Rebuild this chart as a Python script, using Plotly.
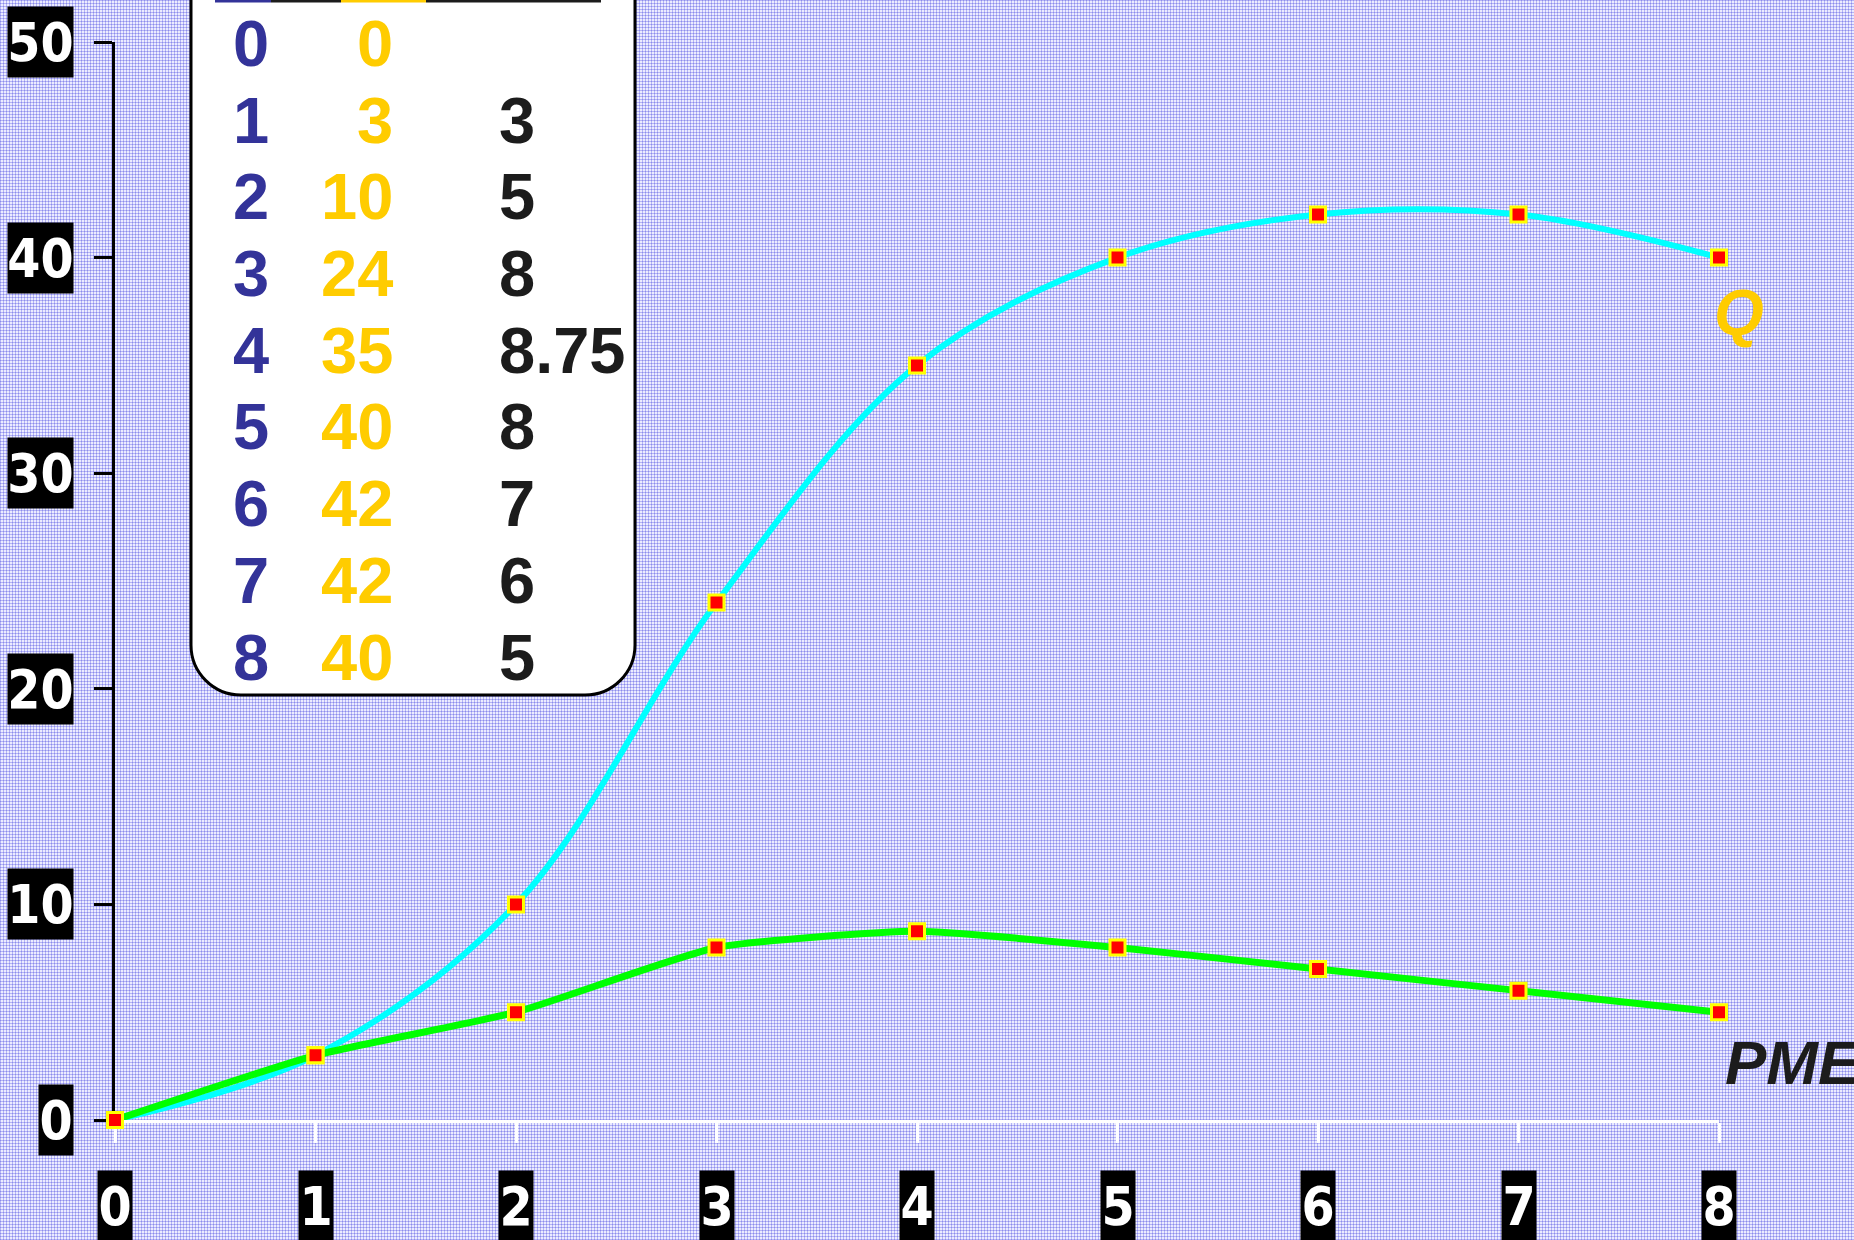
import base64
import plotly.graph_objects as go

# Production with one variable input: labour L, total output Q, average product PME
labor = [0, 1, 2, 3, 4, 5, 6, 7, 8]
output_q = [0, 3, 10, 24, 35, 40, 42, 42, 40]
avg_product = [0, 3, 5, 8, 8.75, 8, 7, 6, 5]
table_pme = ["", "3", "5", "8", "8.75", "8", "7", "6", "5"]
x_ticks = [0, 1, 2, 3, 4, 5, 6, 7, 8]
y_ticks = [0, 10, 20, 30, 40, 50]

# Canvas and plot-area geometry (pixels)
W, H = 1854, 1240
M_L, M_R, M_T, M_B = 115, 135, 42, 120
PW = W - M_L - M_R
PH = H - M_T - M_B

BG = "#C8C8F8"
CYAN = "#00FFFF"
GREEN = "#00FF00"
RED = "#FF0000"
YELLOW = "#FFFF00"
BLUE = "#333399"
GOLD = "#FFCC00"
INK = "#1C1C1C"

SANS = "Liberation Sans, Arial, sans-serif"
NARROW = "Liberation Sans Narrow, Arial Narrow, DejaVu Sans Condensed, sans-serif"


def px(xp):
    """pixel x -> paper x"""
    return (xp - M_L) / PW


def py(yp):
    """pixel y (from top) -> paper y"""
    return (H - M_B - yp) / PH


# Fine woven lavender background tile
tile_svg = (
    f"<svg xmlns='http://www.w3.org/2000/svg' width='{W}' height='{H}'>"
    "<defs><pattern id='p' width='3' height='3' patternUnits='userSpaceOnUse'>"
    "<rect width='3' height='3' fill='#EBEBFF'/>"
    "<rect width='3' height='1' fill='#B4B4F5'/>"
    "<rect width='1' height='3' fill='#B4B4F5'/>"
    "<rect width='1' height='1' fill='#8C8CEB'/>"
    "</pattern></defs>"
    f"<rect width='{W}' height='{H}' fill='url(#p)'/></svg>"
)
bg_src = "data:image/svg+xml;base64," + base64.b64encode(tile_svg.encode()).decode()

fig = go.Figure()

# Total product curve
fig.add_trace(go.Scatter(
    x=labor, y=output_q, mode="lines",
    line=dict(color=CYAN, width=6, shape="spline", smoothing=1.0),
    hoverinfo="skip", cliponaxis=False, showlegend=False,
))
# Average product curve
fig.add_trace(go.Scatter(
    x=labor, y=avg_product, mode="lines",
    line=dict(color=GREEN, width=7, shape="spline", smoothing=0.5),
    hoverinfo="skip", cliponaxis=False, showlegend=False,
))
# Point markers on both curves
fig.add_trace(go.Scatter(
    x=labor + labor, y=output_q + avg_product, mode="markers",
    marker=dict(symbol="square", size=15, color=RED,
                line=dict(color=YELLOW, width=3)),
    hoverinfo="skip", cliponaxis=False, showlegend=False,
))

shapes = []
annotations = []

# Data table panel: white box with rounded bottom corners
left, right, top, bottom, r = 191, 635, -120, 695, 50
k = 0.5523 * r
pts = [
    ("M", [(left, top)]),
    ("L", [(left, bottom - r)]),
    ("C", [(left, bottom - r + k), (left + r - k, bottom), (left + r, bottom)]),
    ("L", [(right - r, bottom)]),
    ("C", [(right - r + k, bottom), (right, bottom - r + k), (right, bottom - r)]),
    ("L", [(right, top)]),
]
path = ""
for cmd, coords in pts:
    path += cmd + " " + " ".join(f"{px(a):.5f},{py(b):.5f}" for a, b in coords) + " "
path += "Z"
shapes.append(dict(type="path", xref="paper", yref="paper", path=path,
                   fillcolor="white", line=dict(color="black", width=3), layer="above"))

# Header underlines of the table columns
for x0, x1, col in [(215, 271, BLUE), (271, 341, INK), (341, 426, GOLD), (426, 601, INK)]:
    shapes.append(dict(type="line", xref="paper", yref="paper",
                       x0=px(x0), x1=px(x1), y0=py(1), y1=py(1),
                       line=dict(color=col, width=3), layer="above"))

# Table rows
row0, row_step = 43.5, 76.7
for i, L in enumerate(labor):
    yc = py(row0 + i * row_step)
    annotations.append(dict(xref="paper", yref="paper", x=px(251), y=yc,
                            text=str(L), showarrow=False, xanchor="center", yanchor="middle",
                            font=dict(family=SANS, size=65, color=BLUE, weight="bold")))
    annotations.append(dict(xref="paper", yref="paper", x=px(395), y=yc,
                            text=str(output_q[i]), showarrow=False, xanchor="right", yanchor="middle",
                            font=dict(family=SANS, size=65, color=GOLD, weight="bold")))
    if table_pme[i]:
        annotations.append(dict(xref="paper", yref="paper", x=px(497), y=yc,
                                text=table_pme[i], showarrow=False, xanchor="left", yanchor="middle",
                                font=dict(family=SANS, size=65, color=INK, weight="bold")))

# Axis tick labels in black boxes
for v in y_ticks:
    annotations.append(dict(xref="paper", yref="y", x=0, y=v, xshift=-41,
                            text=str(v), showarrow=False, xanchor="right", yanchor="middle",
                            bgcolor="black", width=32 if v < 10 else 63, height=68,
                            font=dict(family=NARROW, size=53, color="white", weight="bold")))
for v in x_ticks:
    annotations.append(dict(xref="x", yref="paper", x=v, y=0, yshift=-86,
                            text=str(v), showarrow=False, xanchor="center", yanchor="middle",
                            bgcolor="black", width=32, height=68,
                            font=dict(family=NARROW, size=53, color="white", weight="bold")))

# Curve names
annotations.append(dict(xref="x", yref="y", x=labor[-1], y=output_q[-1], xshift=20, yshift=-55,
                        text="Q", showarrow=False, xanchor="center", yanchor="middle",
                        font=dict(family=SANS, size=64, color=GOLD, weight="bold", style="italic")))
annotations.append(dict(xref="x", yref="y", x=labor[-1], y=avg_product[-1], xshift=4, yshift=-50,
                        text="PME", showarrow=False, xanchor="left", yanchor="middle",
                        font=dict(family=SANS, size=62, color=INK, weight="bold", style="italic")))

fig.update_layout(
    width=W, height=H,
    margin=dict(l=M_L, r=M_R, t=M_T, b=M_B, pad=0),
    paper_bgcolor=BG, plot_bgcolor="rgba(0,0,0,0)",
    showlegend=False,
    images=[dict(source=bg_src, xref="paper", yref="paper",
                 x=px(0), y=py(0), sizex=W / PW, sizey=H / PH,
                 xanchor="left", yanchor="top", sizing="stretch", layer="below")],
    shapes=shapes,
    annotations=annotations,
    xaxis=dict(range=[0, 8], showgrid=False, zeroline=False,
               showline=True, linecolor="white", linewidth=3,
               ticks="outside", ticklen=20, tickwidth=3, tickcolor="white",
               tickvals=x_ticks, showticklabels=False, layer="below traces",
               fixedrange=True),
    yaxis=dict(range=[0, 50], showgrid=False, zeroline=False,
               showline=True, linecolor="black", linewidth=3,
               ticks="outside", ticklen=18, tickwidth=3, tickcolor="black",
               tickvals=y_ticks, showticklabels=False, layer="below traces",
               fixedrange=True),
)

fig.write_html("out.html", config={"displayModeBar": False})
